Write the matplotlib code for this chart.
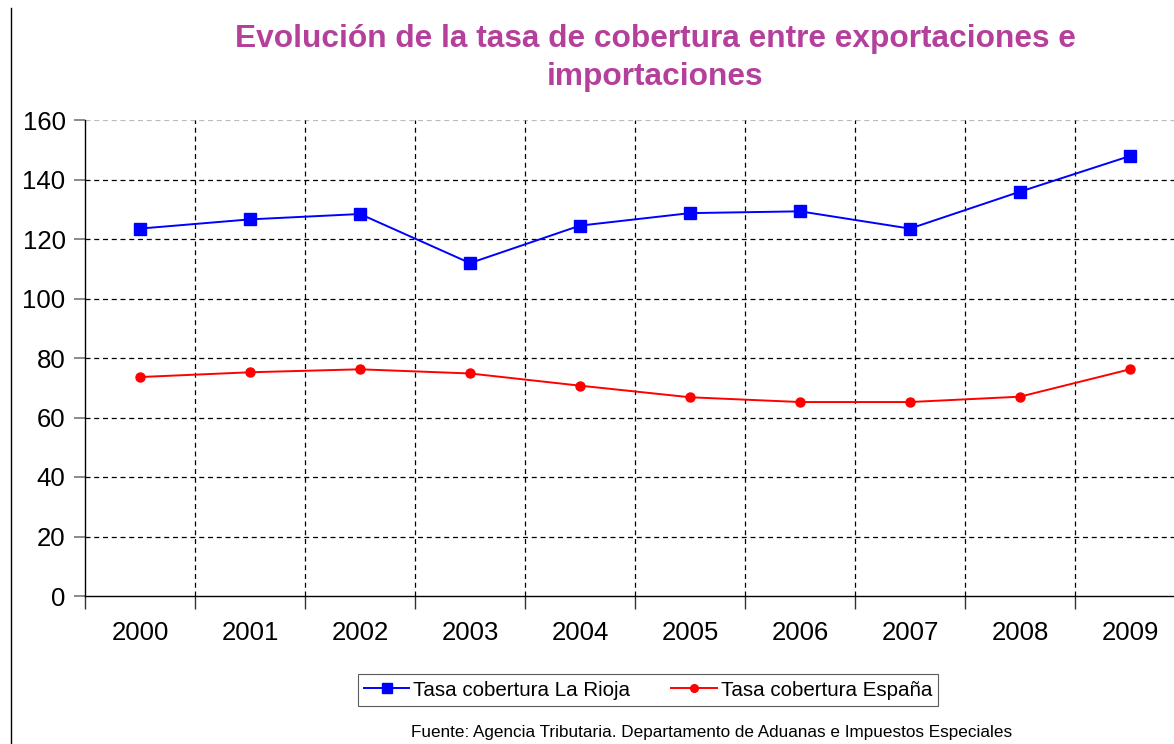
import matplotlib.pyplot as plt
from matplotlib.lines import Line2D
import numpy as np

years = ["2000", "2001", "2002", "2003", "2004", "2005", "2006", "2007", "2008", "2009"]
rioja = [123.5, 126.6, 128.4, 111.9, 124.5, 128.7, 129.3, 123.5, 135.9, 147.9]
espana = [73.6, 75.2, 76.2, 74.8, 70.7, 66.8, 65.2, 65.2, 67.0, 76.2]
yticks = [0, 20, 40, 60, 80, 100, 120, 140, 160]

plt.rcParams['font.family'] = ['Liberation Sans', 'DejaVu Sans']

W, H = 1174, 744
fig = plt.figure(figsize=(W / 100, H / 100), dpi=100)
ax = fig.add_axes([85 / W, (H - 596) / H, 1100 / W, 476 / H])

x = np.arange(len(years))
ax.plot(x, rioja, color='#0000ff', lw=1.4, marker='s', ms=8,
        label='Tasa cobertura La Rioja')
ax.plot(x, espana, color='#ff0000', lw=1.4, marker='o', ms=6.5,
        label='Tasa cobertura España')

ax.set_xlim(-0.5, len(years) - 0.5)
ax.set_ylim(0, 160)

# horizontal grid
for v in yticks[1:]:
    c = '#bbbbbb' if v == 160 else 'black'
    ax.axhline(v, color=c, lw=0.9, ls=(0, (4, 3)), zorder=0)
# vertical grid at category boundaries
for b in np.arange(0.5, len(years) - 0.5, 1):
    ax.axvline(b, color='black', lw=0.9, ls=(0, (4, 3)), zorder=0)

ax.set_yticks(yticks)
ax.set_yticklabels([str(v) for v in yticks], fontsize=18.5)
ax.tick_params(axis='y', length=8, width=1.2, color='#777777', pad=6)

ax.set_xticks(x)
ax.set_xticklabels(years, fontsize=18.5)
ax.tick_params(axis='x', length=0, pad=18)
ax.set_xticks(np.arange(-0.5, len(years), 1), minor=True)
ax.tick_params(axis='x', which='minor', length=9, width=1, color='#333333')

for s in ['top', 'right']:
    ax.spines[s].set_visible(False)
ax.spines['left'].set_linewidth(1)
ax.spines['bottom'].set_linewidth(1)

fig.text(655 / W, 1 - 58 / H, 'Evolución de la tasa de cobertura entre exportaciones e\nimportaciones',
         ha='center', va='center', fontsize=22.8, fontweight='bold', color='#b5409c',
         linespacing=1.35)

leg = fig.legend(loc='center', bbox_to_anchor=(648 / W, 1 - 690 / H), ncol=2,
                 fontsize=14.8, frameon=True, fancybox=False, edgecolor='#333333',
                 handlelength=2.2, handletextpad=0.2, columnspacing=2.0,
                 borderpad=0.3, borderaxespad=0.5, markerscale=0.85)
leg.get_frame().set_linewidth(0.8)

fig.text(712 / W, 1 - 733 / H,
         'Fuente: Agencia Tributaria. Departamento de Aduanas e Impuestos Especiales',
         ha='center', va='center', fontsize=12.3)

fig.add_artist(Line2D([11 / W, 11 / W], [0, 1 - 8 / H], color='black', lw=1,
                      transform=fig.transFigure))

fig.savefig('out.png', dpi=100)
